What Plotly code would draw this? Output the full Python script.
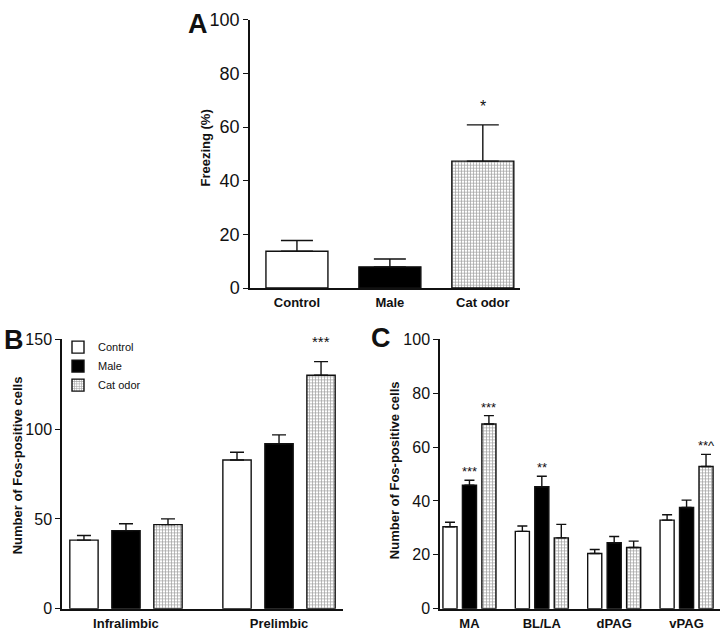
import numpy as np
import plotly.graph_objects as go

# ---------------- data ----------------
groups_a = ["Control", "Male", "Cat odor"]
freezing_mean = [13.7, 7.9, 47.3]
freezing_sem = [4.0, 2.9, 13.5]
sig_a = ["", "", "*"]

regions_b = ["Infralimbic", "Prelimbic"]
b_control = [38.2, 82.8]
b_control_err = [2.6, 4.3]
b_male = [43.5, 91.9]
b_male_err = [3.8, 4.9]
b_cat = [46.8, 130.0]
b_cat_err = [3.2, 7.6]
sig_b_cat = ["", "***"]

regions_c = ["MA", "BL/LA", "dPAG", "vPAG"]
c_control = [30.4, 28.7, 20.5, 32.9]
c_control_err = [1.7, 2.0, 1.5, 2.0]
c_male = [45.9, 45.3, 24.5, 37.6]
c_male_err = [1.8, 3.9, 2.3, 2.7]
c_cat = [68.6, 26.3, 22.7, 52.8]
c_cat_err = [3.1, 5.0, 2.4, 4.5]
sig_c_male = ["***", "**", "", ""]
sig_c_cat = ["***", "", "", "**^"]

series_names = ["Control", "Male", "Cat odor"]

# ---------------- style ----------------
FONT = "Liberation Sans, Arial, sans-serif"
INK = "#111111"
W, H = 720, 640

def px_x(p):
    return p / W

def px_y(p):
    return 1 - p / H

styles = {
    "Control": dict(color="white", pattern=dict(shape="")),
    "Male": dict(color="black", pattern=dict(shape="")),
    "Cat odor": dict(color="white", pattern=dict(shape="+", size=3, solidity=0.42,
                                                  fgcolor="#404040", bgcolor="white")),
}

fig = go.Figure()

def err(vals, capw):
    return dict(type="data", array=vals, arrayminus=[0] * len(vals), symmetric=False,
                color=INK, thickness=1.4, width=capw)

# ---- Panel A ----
xa = np.arange(len(groups_a))
for i, g in enumerate(groups_a):
    st = styles[g]
    fig.add_trace(go.Bar(
        x=[xa[i]], y=[freezing_mean[i]], width=0.667,
        marker=dict(color=st["color"], pattern=st["pattern"], line=dict(color=INK, width=1.4)),
        error_y=err([freezing_sem[i]], 16), xaxis="x", yaxis="y", showlegend=False))

# ---- Panel B ----
xb = np.arange(len(regions_b))
b_vals = [b_control, b_male, b_cat]
b_errs = [b_control_err, b_male_err, b_cat_err]
off_b = 0.2745
for k, name in enumerate(series_names):
    st = styles[name]
    fig.add_trace(go.Bar(
        x=xb + (k - 1) * off_b, y=b_vals[k], width=0.185, name=name,
        marker=dict(color=st["color"], pattern=st["pattern"], line=dict(color=INK, width=1.4)),
        error_y=err(b_errs[k], 7), xaxis="x2", yaxis="y2", showlegend=True))

# ---- Panel C ----
xc = np.arange(len(regions_c))
c_vals = [c_control, c_male, c_cat]
c_errs = [c_control_err, c_male_err, c_cat_err]
off_c = 0.269
for k, name in enumerate(series_names):
    st = styles[name]
    fig.add_trace(go.Bar(
        x=xc + (k - 1) * off_c, y=c_vals[k], width=0.195, name=name,
        marker=dict(color=st["color"], pattern=st["pattern"], line=dict(color=INK, width=1.4)),
        error_y=err(c_errs[k], 5), xaxis="x3", yaxis="y3", showlegend=False))

# ---------------- annotations ----------------
ann = []
for i, s in enumerate(sig_a):
    if s:
        ann.append(dict(x=xa[i], y=freezing_mean[i] + freezing_sem[i], xref="x", yref="y",
                        text=s, showarrow=False, yanchor="bottom", yshift=8,
                        font=dict(size=16, family=FONT, color=INK)))
for i, s in enumerate(sig_b_cat):
    if s:
        ann.append(dict(x=xb[i] + off_b, y=b_cat[i] + b_cat_err[i], xref="x2", yref="y2",
                        text=s, showarrow=False, yanchor="bottom", yshift=10,
                        font=dict(size=15, family=FONT, color=INK)))
for i, s in enumerate(sig_c_male):
    if s:
        ann.append(dict(x=xc[i], y=c_male[i] + c_male_err[i], xref="x3", yref="y3",
                        text=s, showarrow=False, yanchor="bottom", yshift=-1,
                        font=dict(size=13, family=FONT, color=INK)))
for i, s in enumerate(sig_c_cat):
    if s:
        edge = i == len(sig_c_cat) - 1
        ann.append(dict(x=xc[i] + off_c, y=c_cat[i] + c_cat_err[i], xref="x3", yref="y3",
                        text=s, showarrow=False, yanchor="bottom", yshift=-1,
                        xanchor="right" if edge else "center", xshift=11 if edge else 0,
                        font=dict(size=13, family=FONT, color=INK)))

# panel letters
for letter, cx, cy in [("A", 198, 14), ("B", 14, 341), ("C", 381, 339)]:
    ann.append(dict(x=px_x(cx), y=px_y(cy), xref="paper", yref="paper", text=f"<b>{letter}</b>",
                    showarrow=False, xanchor="center", yanchor="middle",
                    font=dict(size=27, family=FONT, color=INK)))

# y-axis titles
for txt, cx, cy in [("Freezing (%)", 206, 143), ("Number of Fos-positive cells", 17, 470),
                    ("Number of Fos-positive cells", 394, 475)]:
    ann.append(dict(x=px_x(cx), y=px_y(cy), xref="paper", yref="paper", text=f"<b>{txt}</b>",
                    showarrow=False, xanchor="center", yanchor="middle", textangle=-90,
                    font=dict(size=13, family=FONT, color=INK)))

def xaxis(domain, rng, vals, labels):
    return dict(domain=domain, range=rng, tickmode="array", tickvals=vals,
                ticktext=[f"<b>{t}</b>" for t in labels], showline=True, linecolor=INK,
                linewidth=1.5, ticks="", showgrid=False, zeroline=False, fixedrange=True,
                ticklabelstandoff=2, tickfont=dict(size=13, family=FONT, color=INK))

def yaxis(domain, rng, dtick, anchor, size):
    return dict(domain=domain, range=rng, dtick=dtick, showline=True, linecolor=INK,
                linewidth=1.5, ticks="outside", ticklen=5, tickwidth=1.4, tickcolor=INK,
                showgrid=False, zeroline=False, anchor=anchor, fixedrange=True,
                tickfont=dict(size=size, family=FONT, color=INK))

fig.update_layout(
    width=W, height=H, margin=dict(l=0, r=0, t=0, b=0),
    paper_bgcolor="white", plot_bgcolor="white", barmode="overlay",
    font=dict(family=FONT, color=INK),
    xaxis=dict(xaxis([px_x(250), px_x(520)], [-0.505, 2.40], xa, groups_a), anchor="y"),
    yaxis=yaxis([px_y(287), px_y(10)], [0, 100], 20, "x", 18),
    xaxis2=dict(xaxis([px_x(62), px_x(343)], [-0.418, 1.418], xb, regions_b), anchor="y2"),
    yaxis2=yaxis([px_y(618), px_y(340)], [0, 150], 50, "x2", 16),
    xaxis3=dict(xaxis([px_x(440), 1.0], [-0.407, 3.462], xc, regions_c), anchor="y3"),
    yaxis3=yaxis([px_y(618), px_y(340)], [0, 100], 20, "x3", 16),
    annotations=ann,
    legend=dict(x=px_x(58), y=px_y(333), xanchor="left", yanchor="top",
                font=dict(size=11, family=FONT, color=INK), bgcolor="rgba(0,0,0,0)",
                itemwidth=30, tracegroupgap=0),
)

fig.write_html(
    "out.html",
    config={"displayModeBar": False},
    post_script="document.body.style.margin='0';document.body.style.overflow='hidden';",
)
